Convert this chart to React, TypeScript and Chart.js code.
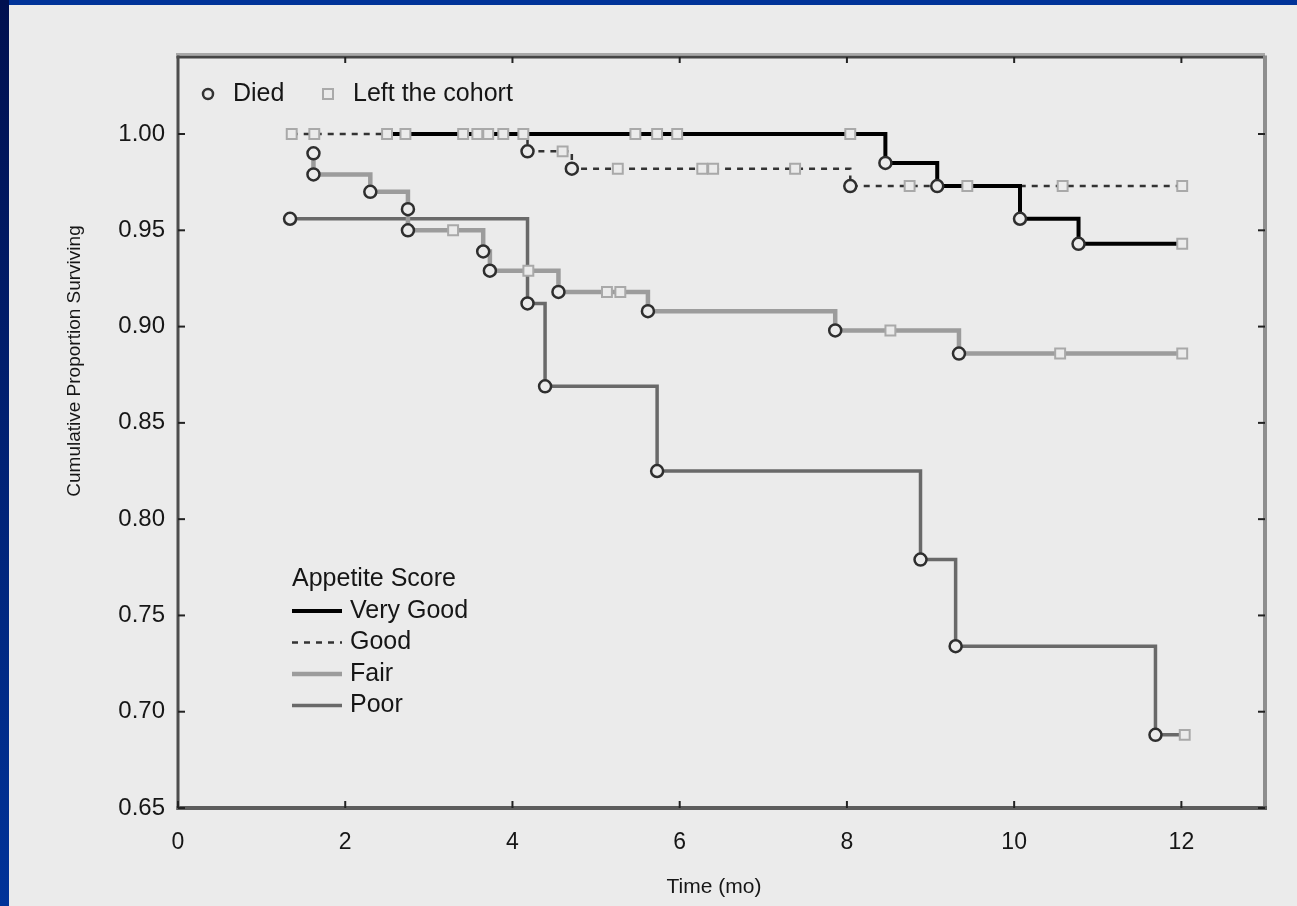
import React, { useEffect, useRef } from 'react';
import { Chart, registerables } from 'chart.js';

Chart.register(...registerables);

// ---- Axis ticks ----
const xTickValues = [0, 2, 4, 6, 8, 10, 12];
const yTickValues = [0.65, 0.7, 0.75, 0.8, 0.85, 0.9, 0.95, 1.0];
const xLimits = [0, 13];
const yLimits = [0.65, 1.04];

// ---- Very Good ----
const veryGoodTimes = [2.5, 8.46, 9.08, 10.07, 10.77, 12.01];
const veryGoodSurvival = [1.0, 0.985, 0.973, 0.956, 0.943, 0.943];
const veryGoodDied = [0, 1, 1, 1, 1, 0];
const veryGoodCensored = [2.5, 2.72, 3.41, 3.58, 3.71, 3.89, 4.13, 5.47, 5.73, 5.97, 8.04, 9.44, 12.01];

// ---- Good ----
const goodTimes = [1.36, 4.18, 4.71, 8.04, 12.01];
const goodSurvival = [1.0, 0.991, 0.982, 0.973, 0.973];
const goodDied = [0, 1, 1, 1, 0];
const goodCensored = [1.36, 1.63, 4.6, 5.26, 6.27, 6.4, 7.38, 8.75, 10.58, 12.01];

// ---- Fair ----
const fairTimes = [1.62, 1.62, 2.3, 2.75, 2.75, 3.65, 3.73, 4.55, 5.62, 7.86, 9.34, 12.01];
const fairSurvival = [0.99, 0.979, 0.97, 0.961, 0.95, 0.939, 0.929, 0.918, 0.908, 0.898, 0.886, 0.886];
const fairDied = [1, 1, 1, 1, 1, 1, 1, 1, 1, 1, 1, 0];
const fairCensored = [3.29, 4.19, 5.13, 5.29, 8.52, 10.55, 12.01];

// ---- Poor ----
const poorTimes = [1.34, 4.18, 4.39, 5.73, 8.88, 9.3, 11.69, 12.04];
const poorSurvival = [0.956, 0.912, 0.869, 0.825, 0.779, 0.734, 0.688, 0.688];
const poorDied = [1, 1, 1, 1, 1, 1, 1, 0];
const poorCensored = [12.04];

const groupNames = ['Very Good', 'Good', 'Fair', 'Poor'];
const legendTitle = 'Appetite Score';
const markerLegend = ['Died', 'Left the cohort'];
const xTitle = 'Time (mo)';
const yTitle = 'Cumulative Proportion Surviving';

const FONT = "'Liberation Sans', Arial, sans-serif";
const BG = '#ebebeb';
const TEXT = '#161616';

const groupStyles = [
  { color: '#000000', width: 4, dash: [] as number[] },
  { color: '#333333', width: 2.5, dash: [6, 6] },
  { color: '#9c9c9c', width: 4.5, dash: [] as number[] },
  { color: '#696969', width: 3.5, dash: [] as number[] },
];

function valueAt(times: number[], surv: number[], t: number) {
  let v = surv[0];
  for (let i = 0; i < times.length; i++) if (times[i] <= t) v = surv[i];
  return v;
}

const groups = [
  { times: veryGoodTimes, surv: veryGoodSurvival, died: veryGoodDied, cens: veryGoodCensored },
  { times: goodTimes, surv: goodSurvival, died: goodDied, cens: goodCensored },
  { times: fairTimes, surv: fairSurvival, died: fairDied, cens: fairCensored },
  { times: poorTimes, surv: poorSurvival, died: poorDied, cens: poorCensored },
];

const framePlugin = {
  id: 'frame',
  afterDatasetsDraw(chart: any) {
    const ctx = chart.ctx as CanvasRenderingContext2D;
    const { left, right, top, bottom } = chart.chartArea;
    const xs = chart.scales.x;
    const ys = chart.scales.y;
    ctx.save();
    // border
    ctx.lineCap = 'butt';
    ctx.strokeStyle = '#a8a8a8';
    ctx.lineWidth = 2;
    ctx.beginPath(); ctx.moveTo(left - 2, top - 3); ctx.lineTo(right, top - 3); ctx.stroke();
    ctx.strokeStyle = '#454545';
    ctx.lineWidth = 3;
    ctx.beginPath(); ctx.moveTo(left - 1.5, top); ctx.lineTo(right, top); ctx.stroke();
    ctx.strokeStyle = '#4d4d4d';
    ctx.beginPath(); ctx.moveTo(left, top - 1.5); ctx.lineTo(left, bottom + 2); ctx.stroke();
    ctx.strokeStyle = '#8e8e8e';
    ctx.lineWidth = 4;
    ctx.beginPath(); ctx.moveTo(right, top - 1.5); ctx.lineTo(right, bottom + 2); ctx.stroke();
    ctx.strokeStyle = '#5c5c5c';
    ctx.lineWidth = 4;
    ctx.beginPath(); ctx.moveTo(left - 1.5, bottom); ctx.lineTo(right + 2, bottom); ctx.stroke();
    // inward ticks
    ctx.strokeStyle = '#222';
    ctx.lineWidth = 2;
    for (const v of yTickValues) {
      const y = ys.getPixelForValue(v);
      ctx.beginPath(); ctx.moveTo(left, y); ctx.lineTo(left + 7, y); ctx.stroke();
      ctx.beginPath(); ctx.moveTo(right, y); ctx.lineTo(right - 7, y); ctx.stroke();
    }
    for (const v of xTickValues) {
      const x = xs.getPixelForValue(v);
      ctx.beginPath(); ctx.moveTo(x, bottom); ctx.lineTo(x, bottom - 7); ctx.stroke();
      if (v > 0) { ctx.beginPath(); ctx.moveTo(x, top); ctx.lineTo(x, top + 6); ctx.stroke(); }
    }
    // marker legend (top)
    ctx.fillStyle = TEXT;
    ctx.font = `25px ${FONT}`;
    ctx.textBaseline = 'middle';
    ctx.textAlign = 'left';
    const ly = top + 37;
    ctx.strokeStyle = '#333';
    ctx.lineWidth = 2.5;
    ctx.beginPath(); ctx.arc(left + 30, ly, 5, 0, Math.PI * 2); ctx.stroke();
    ctx.fillText(markerLegend[0], left + 55, ly);
    ctx.strokeStyle = '#aaaaaa';
    ctx.lineWidth = 2;
    ctx.strokeRect(left + 145, ly - 5, 10, 10);
    ctx.fillText(markerLegend[1], left + 175, ly);
    // group legend (bottom left)
    ctx.font = `25px ${FONT}`;
    const gx = left + 114;
    ctx.fillText(legendTitle, gx, top + 522);
    groupNames.forEach((name, i) => {
      const y = top + 554 + i * 31.5;
      const st = groupStyles[i];
      ctx.strokeStyle = st.color;
      ctx.lineWidth = st.width;
      ctx.setLineDash(st.dash);
      ctx.beginPath(); ctx.moveTo(gx, y); ctx.lineTo(gx + 50, y); ctx.stroke();
      ctx.setLineDash([]);
      ctx.fillText(name, gx + 58, y);
    });
    // axis titles
    ctx.font = `21px ${FONT}`;
    ctx.textAlign = 'center';
    ctx.fillText(xTitle, 714, 887);
    ctx.save();
    ctx.translate(75, 361);
    ctx.rotate(-Math.PI / 2);
    ctx.font = `19px ${FONT}`;
    ctx.fillText(yTitle, 0, 0);
    ctx.restore();
    ctx.restore();
  },
};

export default function App() {
  const ref = useRef<HTMLCanvasElement>(null);
  useEffect(() => {
    const datasets: any[] = [];
    groups.forEach((g, gi) => {
      const st = groupStyles[gi];
      datasets.push({
        label: groupNames[gi],
        data: g.times.map((t, i) => ({ x: t, y: g.surv[i] })),
        showLine: true,
        stepped: true,
        borderColor: st.color,
        borderWidth: st.width,
        borderDash: st.dash,
        pointRadius: 0,
        order: 5 + gi,
        borderCapStyle: 'butt',
        borderJoinStyle: 'miter',
      });
    });
    groups.forEach((g, gi) => {
      datasets.push({
        label: groupNames[gi] + ' censored',
        data: g.cens.map((t) => ({ x: t, y: valueAt(g.times, g.surv, t) })),
        showLine: false,
        pointStyle: 'rect',
        pointRadius: 7,
        pointBorderWidth: 2,
        pointBorderColor: '#a9a9a9',
        pointBackgroundColor: BG,
        order: 2,
      });
      const diedIdx = g.times.map((_, i) => i).filter((i) => g.died[i]);
      datasets.push({
        label: groupNames[gi] + ' died',
        data: diedIdx.map((i) => ({ x: g.times[i], y: g.surv[i] })),
        showLine: false,
        pointStyle: 'circle',
        pointRadius: 6,
        pointBorderWidth: 2.5,
        pointBorderColor: '#2e2e2e',
        pointBackgroundColor: BG,
        order: 1,
      });
    });

    const chart = new Chart(ref.current!, {
      type: 'scatter',
      data: { datasets },
      options: {
        animation: false,
        responsive: false,
        events: [],
        layout: { padding: { left: 0, top: 57, right: 32, bottom: 0 } },
        plugins: { legend: { display: false }, tooltip: { enabled: false } },
        scales: {
          x: {
            type: 'linear',
            min: xLimits[0],
            max: xLimits[1],
            afterBuildTicks: (s: any) => { s.ticks = xTickValues.map((v) => ({ value: v })); },
            afterFit: (s: any) => { s.height = 98; },
            grid: { display: false, drawTicks: false },
            border: { display: false },
            ticks: { color: TEXT, font: { family: FONT, size: 23 }, padding: 21, callback: (v: any) => String(v) },
          },
          y: {
            type: 'linear',
            min: yLimits[0],
            max: yLimits[1],
            afterBuildTicks: (s: any) => { s.ticks = yTickValues.map((v) => ({ value: v })); },
            afterFit: (s: any) => { s.width = 178; },
            grid: { display: false, drawTicks: false },
            border: { display: false },
            ticks: { color: TEXT, font: { family: FONT, size: 24 }, padding: 13, callback: (v: any) => Number(v).toFixed(2) },
          },
        },
      },
      plugins: [framePlugin],
    });
    return () => chart.destroy();
  }, []);

  return (
    <div style={{ position: 'fixed', left: 0, top: 0, width: 1297, height: 906, background: BG, overflow: 'hidden' }}>
      <canvas ref={ref} width={1297} height={906} style={{ position: 'absolute', left: 0, top: 0 }} />
      <div style={{ position: 'absolute', left: 0, top: 0, width: 1297, height: 5, background: '#003399' }} />
      <div style={{ position: 'absolute', left: 0, top: 0, width: 9, height: 906, background: 'linear-gradient(#00104f, #003399)' }} />
    </div>
  );
}
